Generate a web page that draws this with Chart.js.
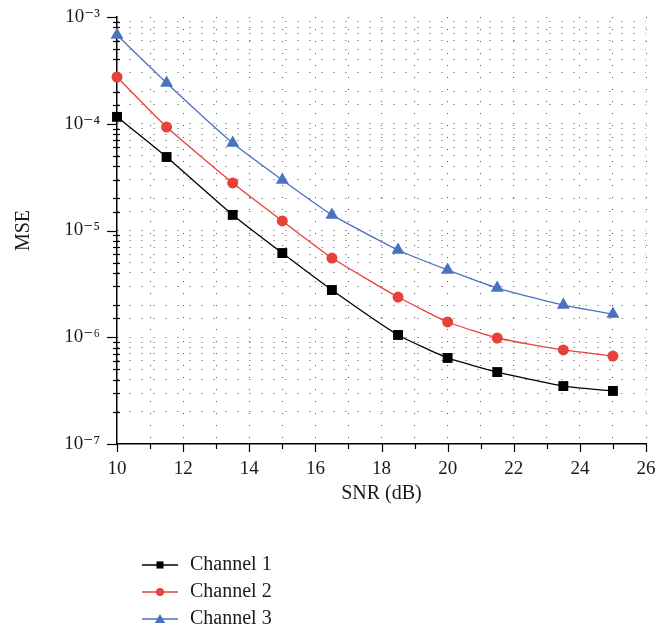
<!DOCTYPE html>
<html>
<head>
<meta charset="utf-8">
<script src="https://cdn.jsdelivr.net/npm/chart.js@4/dist/chart.umd.min.js"></script>
<style>
  html, body { margin: 0; padding: 0; background: #fff; }
  #wrap { width: 658px; height: 631px; }
</style>
</head>
<body>
<div id="wrap"><canvas id="mse"></canvas></div>
<script>
// SNR sweep (dB) and the estimation error per channel
const snr = [10, 11.5, 13.5, 15, 16.5, 18.5, 20, 21.5, 23.5, 25];
const mseChannel1 = [1.16e-4, 4.88e-5, 1.40e-5, 6.15e-6, 2.77e-6, 1.05e-6, 6.4e-7, 4.72e-7, 3.49e-7, 3.14e-7];
const mseChannel2 = [2.74e-4, 9.32e-5, 2.79e-5, 1.23e-5, 5.52e-6, 2.38e-6, 1.39e-6, 9.84e-7, 7.6e-7, 6.67e-7];
const mseChannel3 = [6.78e-4, 2.41e-4, 6.6e-5, 2.97e-5, 1.40e-5, 6.57e-6, 4.27e-6, 2.89e-6, 2.0e-6, 1.65e-6];
const seriesNames = ['Channel 1', 'Channel 2', 'Channel 3'];

// axis labelling
const xLabeledTicks = [10, 12, 14, 16, 18, 20, 22, 24, 26];
const xTickLabels = ['10', '12', '14', '16', '18', '20', '22', '24', '26'];
const yDecades = [1e-7, 1e-6, 1e-5, 1e-4, 1e-3];
const yDecadeLabels = ['10\u207B\u2077', '10\u207B\u2076', '10\u207B\u2075', '10\u207B\u2074', '10\u207B\u00B3'];

const SERIF = '"Liberation Serif", "DejaVu Serif", serif';
const HIDDEN = 'rgba(0,0,0,0)';

function toPoints(ys) { return snr.map((x, i) => ({ x: x, y: ys[i] })); }
function isDecade(v) { const l = Math.log10(v); return Math.abs(l - Math.round(l)) < 1e-6; }
function decadeLabel(v) {
  const i = yDecades.findIndex(d => Math.abs(Math.log10(d) - Math.log10(v)) < 1e-6);
  return i >= 0 ? yDecadeLabels[i] : '';
}

// short outward tick marks: long at labelled values, short elsewhere
const axisMarks = {
  id: 'axisMarks',
  beforeDatasetsDraw(chart) {
    const { ctx, scales: { x, y } } = chart;
    ctx.save();
    ctx.strokeStyle = '#000';
    ctx.lineWidth = 1.2;
    const seg = (x1, y1, x2, y2) => { ctx.beginPath(); ctx.moveTo(x1, y1); ctx.lineTo(x2, y2); ctx.stroke(); };
    x.ticks.forEach(t => {
      const px = Math.round(x.getPixelForValue(t.value)) + 0.5;
      const len = xLabeledTicks.includes(t.value) ? 8 : 5;
      seg(px, x.top, px, x.top + len);
    });
    y.ticks.forEach(t => {
      const py = Math.round(y.getPixelForValue(t.value)) + 0.5;
      if (isDecade(t.value)) seg(y.right - 10, py, y.right, py);
      else seg(y.right - 4, py, y.right + 3, py);
    });
    ctx.restore();
  }
};

// stacked legend beneath the x axis title
const stackedLegend = {
  id: 'stackedLegend',
  afterDraw(chart) {
    const { ctx } = chart;
    const rows = [565, 592, 619];
    const markerSize = { rect: 5, circle: 4, triangle: 6 };
    ctx.save();
    chart.data.datasets.forEach((ds, i) => {
      const yy = rows[i];
      ctx.strokeStyle = ds.borderColor;
      ctx.lineWidth = 1.3;
      ctx.beginPath(); ctx.moveTo(142, yy); ctx.lineTo(178, yy); ctx.stroke();
      ctx.fillStyle = ds.pointBackgroundColor;
      Chart.helpers.drawPoint(ctx, { pointStyle: ds.pointStyle, radius: markerSize[ds.pointStyle], rotation: 0, borderWidth: 0 }, 160, yy + (ds.pointStyle === 'triangle' ? 1 : 0));
      ctx.fillStyle = '#1a1a1a';
      ctx.font = '20px ' + SERIF;
      ctx.textAlign = 'left';
      ctx.textBaseline = 'middle';
      ctx.fillText(ds.label, 190, yy);
    });
    ctx.restore();
  }
};

function series(label, ys, color, style, radius) {
  return {
    label: label,
    data: toPoints(ys),
    borderColor: color,
    backgroundColor: color,
    pointBackgroundColor: color,
    pointBorderColor: color,
    pointBorderWidth: 0,
    pointStyle: style,
    pointRadius: radius,
    pointHoverRadius: radius,
    borderWidth: 1.3,
    tension: 0.15,
    clip: false
  };
}

new Chart(document.getElementById('mse'), {
  type: 'line',
  data: {
    datasets: [
      series(seriesNames[0], mseChannel1, '#000000', 'rect', 7),
      series(seriesNames[1], mseChannel2, '#e8403a', 'circle', 5.5),
      series(seriesNames[2], mseChannel3, '#4a72c0', 'triangle', 7.5)
    ]
  },
  options: {
    responsive: true,
    maintainAspectRatio: false,
    animation: false,
    layout: { padding: { left: 0, top: 17, right: 12, bottom: 0 } },
    plugins: { legend: { display: false }, tooltip: { enabled: false } },
    scales: {
      x: {
        type: 'linear',
        min: 10,
        max: 26,
        afterFit(scale) { scale.height = 187; },
        ticks: {
          stepSize: 1,
          autoSkip: false,
          maxRotation: 0,
          padding: 2,
          color: '#1a1a1a',
          font: { family: SERIF, size: 19 },
          callback(v) { const i = xLabeledTicks.indexOf(v); return i >= 0 ? xTickLabels[i] : ''; }
        },
        grid: {
          drawTicks: true,
          tickLength: 12,
          tickColor: HIDDEN,
          lineWidth: 1,
          color(ctx) { const v = ctx.tick && ctx.tick.value; return (v === 10) ? HIDDEN : '#555'; }
        },
        border: { display: true, color: '#000', width: 1.5, dash: [1, 11] },
        title: {
          display: true,
          text: 'SNR (dB)',
          color: '#1a1a1a',
          font: { family: SERIF, size: 20 },
          padding: { top: 0, bottom: 125 }
        }
      },
      y: {
        type: 'logarithmic',
        min: 1e-7,
        max: 1e-3,
        afterFit(scale) { scale.width = 117; },
        ticks: {
          autoSkip: false,
          padding: 2,
          color: '#1a1a1a',
          font: { family: SERIF, size: 19 },
          callback(v) { return isDecade(v) ? decadeLabel(v) : ''; }
        },
        grid: {
          drawTicks: true,
          tickLength: 15,
          tickColor: HIDDEN,
          lineWidth: 1,
          color(ctx) {
            const v = ctx.tick && ctx.tick.value;
            if (v === undefined) return '#555';
            return (Math.abs(Math.log10(v) + 7) < 1e-6 || Math.abs(Math.log10(v) + 3) < 1e-6) ? HIDDEN : '#555';
          }
        },
        border: { display: true, color: '#000', width: 1.5, dash: [1, 11] },
        title: {
          display: true,
          text: 'MSE',
          color: '#1a1a1a',
          font: { family: SERIF, size: 20 },
          padding: { top: 12, bottom: 0 }
        }
      }
    }
  },
  plugins: [axisMarks, stackedLegend]
});
</script>
</body>
</html>
